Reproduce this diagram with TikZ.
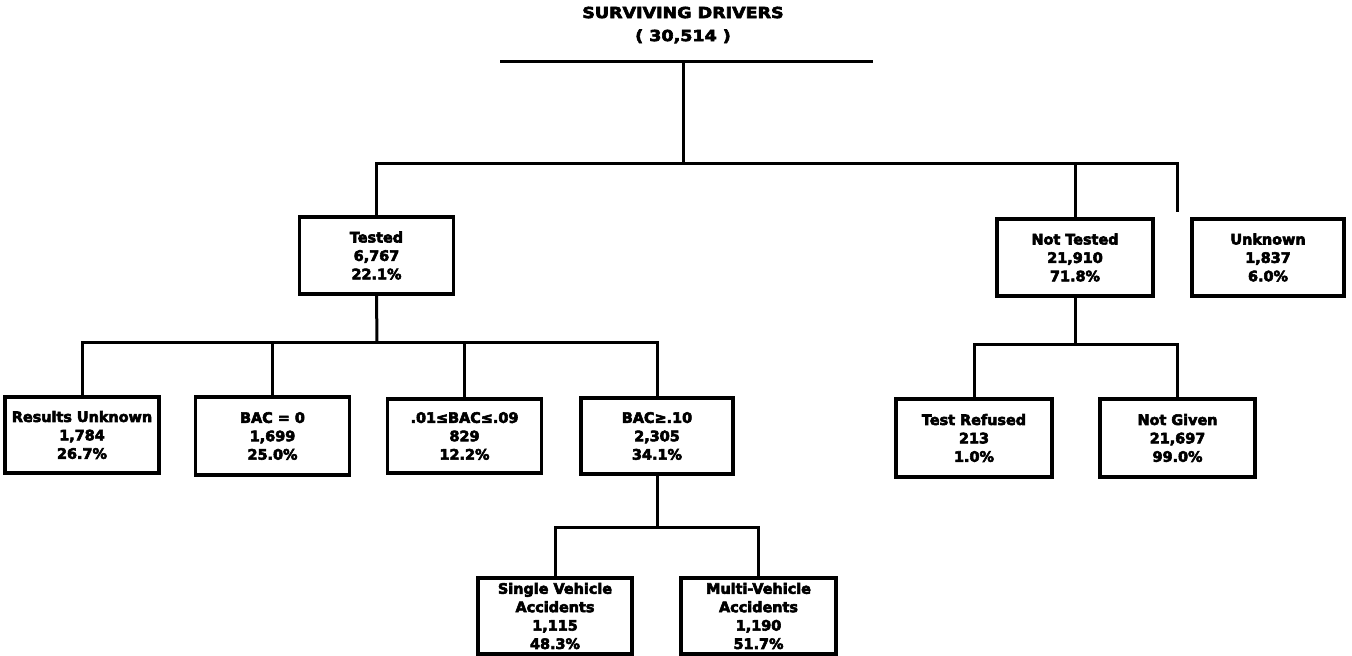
\documentclass[tikz,border=0pt]{standalone}
\usepackage{fontspec}
\setmainfont{DejaVu Sans}[BoldFeatures={FakeBold=4}]
\newfontfamily\titlefont{DejaVu Sans}[FakeStretch=1.15,BoldFeatures={FakeBold=4}]
\begin{document}
\begin{tikzpicture}[x=0.5pt,y=-0.5pt,
  box/.style={draw,line width=1.7pt,minimum width=77pt,minimum height=38.5pt,
    inner sep=0pt,align=center,font=\bfseries\fontsize{7.2}{9.2}\selectfont},
  conn/.style={line width=1.5pt},
  ttl/.style={align=center,inner sep=0pt,font=\titlefont\bfseries\fontsize{7.6}{11.5}\selectfont}]
\useasboundingbox (0,0) rectangle (1352,656);
% title
\node[ttl] (title) at (683,25) {SURVIVING DRIVERS\\( 30,514 )};
\coordinate (tl) at (500,62);
\coordinate (tr) at (873,62);
\coordinate (tm) at (683,62);
\coordinate (b1) at (683,164);
% level 1
\node[box] (tested) at (376.5,255.5) {Tested\\6,767\\22.1\%};
\node[box,minimum width=78pt] (nottested) at (1075,257.5) {Not Tested\\21,910\\71.8\%};
\node[box,minimum width=76pt] (unknown) at (1268,257.5) {Unknown\\1,837\\6.0\%};
% level 2
\node[box,minimum height=38pt] (resunk) at (82,435) {Results Unknown\\1,784\\26.7\%};
\node[box,minimum height=39pt] (bac0) at (272.5,436) {BAC = 0\\1,699\\25.0\%};
\node[box,minimum height=37pt] (mid) at (464.5,436) {.01≤BAC≤.09\\829\\12.2\%};
\node[box,minimum width=76pt,minimum height=38pt] (bac10) at (657,436) {BAC≥.10\\2,305\\34.1\%};
\node[box,minimum width=78pt,minimum height=39pt] (refused) at (974,438) {Test Refused\\213\\1.0\%};
\node[box,minimum width=77.5pt,minimum height=39pt] (notgiven) at (1177.5,438) {Not Given\\21,697\\99.0\%};
% level 3
\node[box,minimum height=38pt] (single) at (555,616) {Single Vehicle\\Accidents\\1,115\\48.3\%};
\node[box,minimum width=77.5pt,minimum height=38pt] (multi) at (758.5,616) {Multi-Vehicle\\Accidents\\1,190\\51.7\%};
% connectors
\draw[conn] (tl) -- (tr);
\draw[conn] (tm) -- (b1);
\coordinate (ud) at (1177,212);
\draw[conn] (tested.north) |- (b1) -| (nottested.north);
\draw[conn] (nottested.north |- b1) -| (ud);
\coordinate (b2) at (377,343);
\draw[conn] (tested.south) -- (b2);
\draw[conn] (resunk.north) |- (b2) -| (bac10.north);
\draw[conn] (bac0.north) -- (bac0.north |- b2);
\draw[conn] (mid.north) -- (mid.north |- b2);
\coordinate (b3) at (1075,345);
\draw[conn] (nottested.south) -- (b3);
\draw[conn] (refused.north) |- (b3) -| (notgiven.north);
\coordinate (b4) at (657,527);
\draw[conn] (bac10.south) -- (b4);
\draw[conn] (single.north) |- (b4) -| (multi.north);
\end{tikzpicture}
\end{document}
